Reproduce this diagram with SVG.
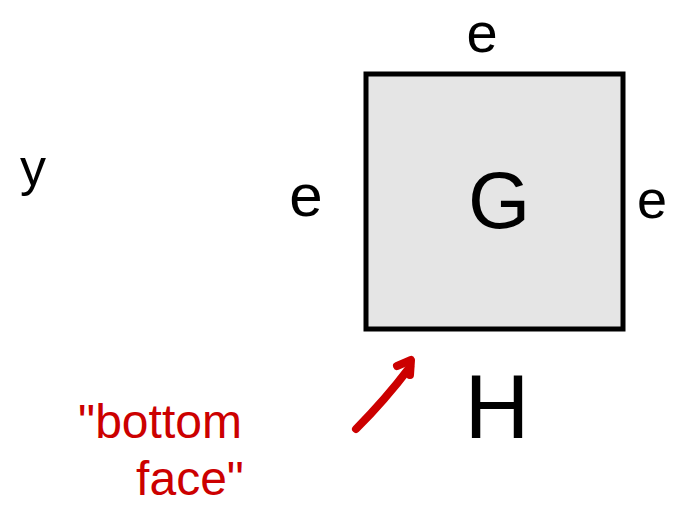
<svg xmlns="http://www.w3.org/2000/svg" width="673" height="508" viewBox="0 0 673 508">
<style>
.k{font-family:"Liberation Sans","DejaVu Sans",sans-serif;fill:#000;}
.r{font-family:"Liberation Sans","DejaVu Sans",sans-serif;fill:#cc0000;}
</style>
<rect width="673" height="508" fill="#fff"/>
<g id="square">
<rect x="366" y="74" width="257" height="255" fill="#e5e5e5" stroke="#000" stroke-width="5"/>
<text class="k" x="499" y="228" font-size="80" text-anchor="middle">G</text>
</g>
<g id="labels">
<text class="k" x="482" y="52" font-size="56" text-anchor="middle">e</text>
<text class="k" x="306" y="216" font-size="60" text-anchor="middle">e</text>
<text class="k" x="652" y="218" font-size="54" text-anchor="middle">e</text>
<text class="k" x="497" y="438" font-size="90" text-anchor="middle">H</text>
<text class="k" x="33" y="185" font-size="52" text-anchor="middle">y</text>
</g>
<g id="annotation">
<text class="r" x="160" y="438" font-size="48" text-anchor="middle">"bottom</text>
<text class="r" x="190" y="495" font-size="48" text-anchor="middle">face"</text>
</g>
<g id="connectors">
<path d="M356,429 Q385,400 410,367" fill="none" stroke="#cc0000" stroke-width="8" stroke-linecap="round"/>
<path d="M397,366 L411,360 L410,375" fill="none" stroke="#cc0000" stroke-width="8" stroke-linecap="round" stroke-linejoin="round"/>
</g>
</svg>
